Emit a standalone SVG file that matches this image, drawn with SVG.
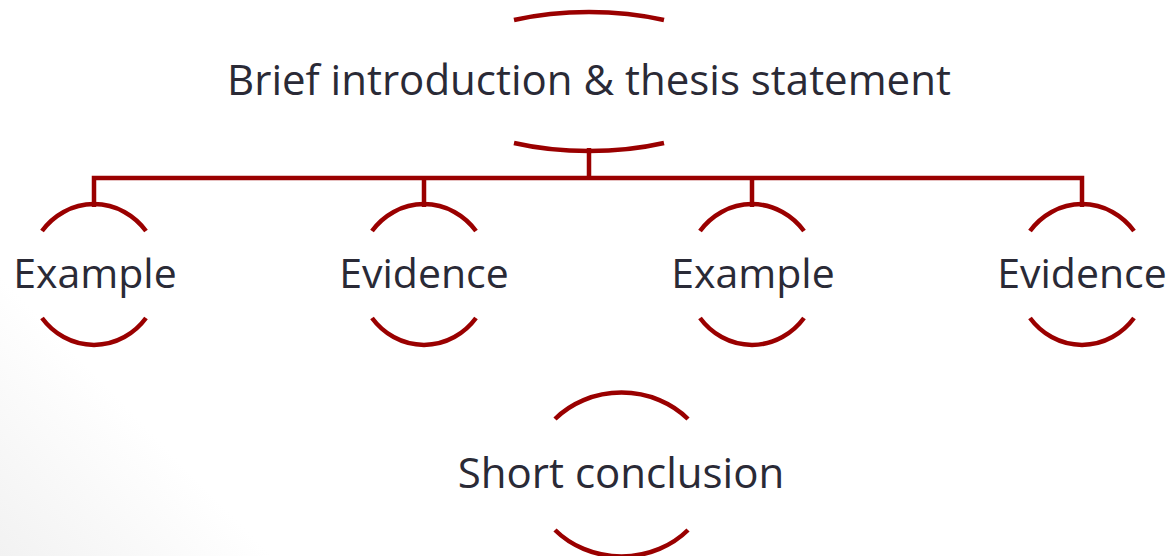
<svg xmlns="http://www.w3.org/2000/svg" width="1170" height="556" viewBox="0 0 1170 556">
<defs>
<linearGradient id="bg" x1="0" y1="556" x2="140" y2="420" gradientUnits="userSpaceOnUse">
<stop offset="0" stop-color="#f2f2f2"/>
<stop offset="1" stop-color="#ffffff"/>
</linearGradient>
<style>
.arc{fill:none;stroke:#9a0000;stroke-width:4.5;stroke-linecap:butt}
.con{fill:none;stroke:#9a0000;stroke-width:4.5}
.lbl{font-family:"Open Sans","Noto Sans",sans-serif;font-size:41px;fill:#2a2a36;text-anchor:middle}
.big{font-size:42px}
</style>
</defs>
<rect width="1170" height="556" fill="#ffffff"/>
<path d="M0 180 L400 556 L0 556 Z" fill="url(#bg)"/>
<g id="connectors">
<path class="con" d="M589 148 V178 M94 207 V178 H1082 V207 M424 178 V207 M752 178 V207"/>
</g>
<g id="node-intro">
<path class="arc" d="M514 20 A159 68 0 0 1 664 20"/>
<path class="arc" d="M514 143 A159 68 0 0 0 664 143"/>
<text class="lbl big" x="589" y="95">Brief introduction &amp; thesis statement</text>
</g>
<g id="node-example1">
<path class="arc" d="M42 231 A66 70 0 0 1 146 231"/>
<path class="arc" d="M42 318 A66 70 0 0 0 146 318"/>
<text class="lbl" x="95" y="288">Example</text>
</g>
<g id="node-evidence1">
<path class="arc" d="M372 231 A66 70 0 0 1 476 231"/>
<path class="arc" d="M372 318 A66 70 0 0 0 476 318"/>
<text class="lbl" x="424" y="288">Evidence</text>
</g>
<g id="node-example2">
<path class="arc" d="M700 231 A66 70 0 0 1 804 231"/>
<path class="arc" d="M700 318 A66 70 0 0 0 804 318"/>
<text class="lbl" x="753" y="288">Example</text>
</g>
<g id="node-evidence2">
<path class="arc" d="M1030 231 A66 70 0 0 1 1134 231"/>
<path class="arc" d="M1030 318 A66 70 0 0 0 1134 318"/>
<text class="lbl" x="1082" y="288">Evidence</text>
</g>
<g id="node-conclusion">
<path class="arc" d="M555 419 A90 81 0 0 1 688 419"/>
<path class="arc" d="M555 530 A90 81 0 0 0 688 530"/>
<text class="lbl big" x="621" y="488">Short conclusion</text>
</g>
</svg>
